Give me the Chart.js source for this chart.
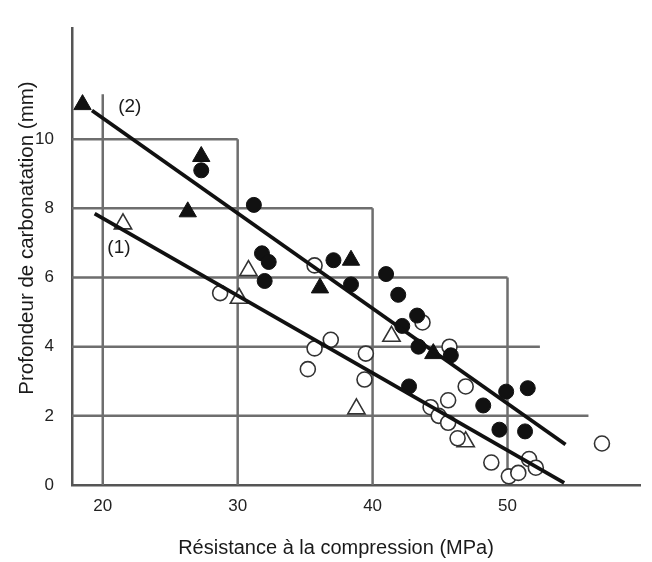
<!DOCTYPE html>
<html>
<head>
<meta charset="utf-8">
<script src="https://cdn.jsdelivr.net/npm/chart.js@4.4.0/dist/chart.umd.min.js"></script>
<style>
  html, body { margin: 0; padding: 0; background: #fff; }
  #wrap { width: 652px; height: 562px; }
</style>
</head>
<body>
<div id="wrap"><canvas id="chart"></canvas></div>
<script>
const xTicks = [20, 30, 40, 50];
const yTicks = [0, 2, 4, 6, 8, 10];

// series (2): closed markers
const filledCircles = [
  [27.3, 9.1], [31.2, 8.1], [31.8, 6.7], [32.3, 6.45], [32.0, 5.9], [37.1, 6.5],
  [38.4, 5.8], [41.0, 6.1], [41.9, 5.5], [43.3, 4.9], [42.2, 4.6], [43.4, 4.0],
  [45.8, 3.75], [42.7, 2.85], [48.2, 2.3], [49.9, 2.7], [51.5, 2.8], [49.4, 1.6],
  [51.3, 1.55]
];
const filledTriangles = [
  [18.5, 11.0], [27.3, 9.5], [26.3, 7.9], [36.1, 5.7], [38.4, 6.5], [44.5, 3.8]
];

// series (1): open markers
const openCircles = [
  [28.7, 5.55], [35.7, 6.35], [36.9, 4.2], [35.7, 3.95], [35.2, 3.35], [39.5, 3.8],
  [39.4, 3.05], [43.7, 4.7], [45.7, 4.0], [46.9, 2.85], [45.6, 2.45], [44.3, 2.25],
  [44.9, 2.0], [45.6, 1.8], [46.3, 1.35], [48.8, 0.65], [50.1, 0.25], [50.8, 0.35],
  [51.6, 0.75], [52.1, 0.5], [57.0, 1.2]
];
const openTriangles = [
  [21.5, 7.55], [30.8, 6.2], [30.1, 5.4], [41.4, 4.3], [38.8, 2.2], [46.9, 1.25]
];

// fitted lines
const line1 = [[19.4, 7.85], [54.2, 0.06]];
const line2 = [[19.2, 10.83], [54.3, 1.17]];

// stepped grid: horizontal lines and where they stop, vertical lines and their top
const hLines = [2, 4, 6, 8, 10];
const hLineEnds = [56, 52.4, 50, 40, 30];
const vLines = [20, 30, 40, 50];
const vLineTops = [11.3, 10, 8, 6];

const toPts = arr => arr.map(p => ({ x: p[0], y: p[1] }));

const stepGrid = {
  id: 'stepGrid',
  beforeDatasetsDraw(chart) {
    const { ctx, scales: { x, y } } = chart;
    ctx.save();
    ctx.strokeStyle = '#6e6e6e';
    ctx.lineWidth = 2.5;
    ctx.beginPath();
    hLines.forEach((v, i) => {
      const py = y.getPixelForValue(v);
      ctx.moveTo(x.left, py);
      ctx.lineTo(x.getPixelForValue(hLineEnds[i]), py);
    });
    vLines.forEach((v, i) => {
      const px = x.getPixelForValue(v);
      ctx.moveTo(px, y.getPixelForValue(0));
      ctx.lineTo(px, y.getPixelForValue(vLineTops[i]));
    });
    ctx.stroke();
    ctx.restore();
  },
  afterDraw(chart) {
    const { ctx, scales: { x, y } } = chart;
    ctx.save();
    ctx.fillStyle = '#1a1a1a';
    ctx.textAlign = 'center';
    ctx.textBaseline = 'middle';
    ctx.font = '19px Arial';
    ctx.fillText('(2)', x.getPixelForValue(22.0), y.getPixelForValue(10.95));
    ctx.fillText('(1)', x.getPixelForValue(21.2), y.getPixelForValue(6.85));

    ctx.font = '20px Arial';
    ctx.fillText('Résistance à la compression (MPa)', 336, 548);
    ctx.translate(27, 238);
    ctx.rotate(-Math.PI / 2);
    ctx.font = '20.5px Arial';
    ctx.fillText('Profondeur de carbonatation (mm)', 0, 0);
    ctx.restore();
  }
};

const openStyle = { backgroundColor: '#fff', borderColor: '#333', borderWidth: 1.6 };
const fillStyle = { backgroundColor: '#111', borderColor: '#111', borderWidth: 1 };

new Chart(document.getElementById('chart'), {
  type: 'scatter',
  data: {
    datasets: [
      { data: toPts(line2), showLine: true, borderColor: '#111', borderWidth: 3.8, pointRadius: 0 },
      { data: toPts(line1), showLine: true, borderColor: '#111', borderWidth: 3.8, pointRadius: 0 },
      { data: toPts(filledCircles), pointStyle: 'circle', pointRadius: 7.5, ...fillStyle },
      { data: toPts(filledTriangles), pointStyle: 'triangle', pointRadius: 10, ...fillStyle },
      { data: toPts(openCircles), pointStyle: 'circle', pointRadius: 7.5, ...openStyle },
      { data: toPts(openTriangles), pointStyle: 'triangle', pointRadius: 10, ...openStyle }
    ]
  },
  options: {
    responsive: true,
    maintainAspectRatio: false,
    animation: false,
    layout: { padding: { top: 8, right: 7, left: 0, bottom: 0 } },
    plugins: { legend: { display: false }, tooltip: { enabled: false } },
    scales: {
      x: {
        type: 'linear',
        min: 17.72,
        max: 59.85,
        grid: { display: false, drawTicks: false },
        border: { display: true, color: '#555', width: 2.5 },
        afterBuildTicks: s => { s.ticks = xTicks.map(v => ({ value: v })); },
        afterFit: s => { s.height = 77; },
        ticks: { padding: 11, color: '#222', font: { family: 'Arial', size: 17 } }
      },
      y: {
        type: 'linear',
        min: 0,
        max: 13.21,
        grid: { display: false, drawTicks: false },
        border: { display: true, color: '#555', width: 2.5 },
        afterBuildTicks: s => { s.ticks = yTicks.map(v => ({ value: v })); },
        afterFit: s => { s.width = 72; },
        ticks: { padding: 18, color: '#222', font: { family: 'Arial', size: 17 } }
      }
    }
  },
  plugins: [stepGrid]
});
</script>
</body>
</html>
